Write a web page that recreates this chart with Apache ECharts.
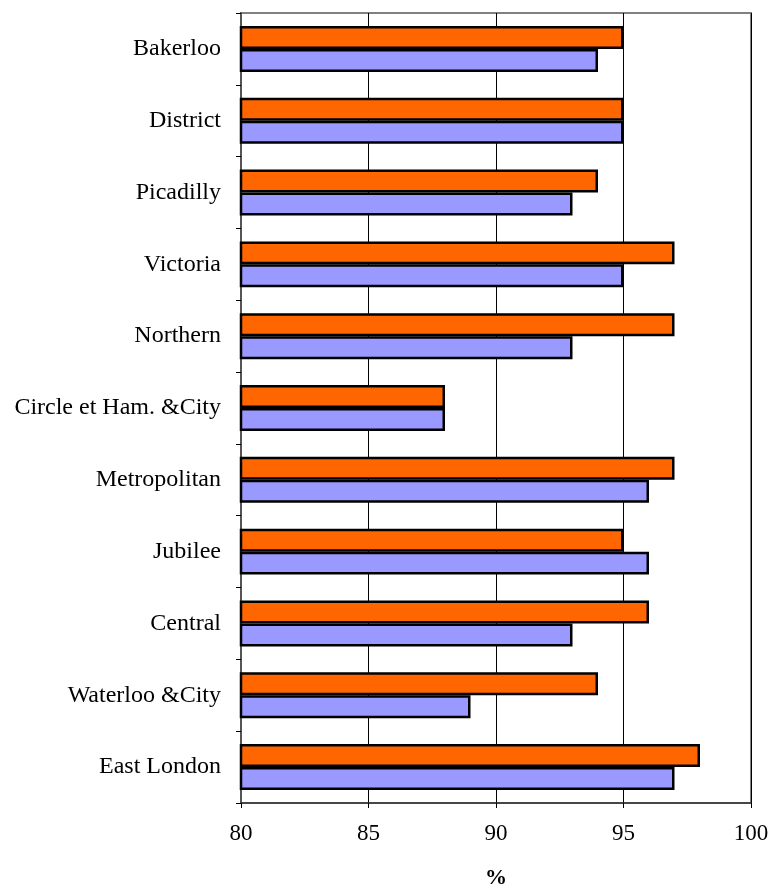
<!DOCTYPE html>
<html><head><meta charset="utf-8">
<script src="https://cdn.jsdelivr.net/npm/echarts@6/dist/echarts.min.js"></script>
<style>html,body{margin:0;padding:0;background:#fff}#c{width:773px;height:889px}</style>
</head><body><div id="c"></div>
<script>
const categories = ['Bakerloo','District','Picadilly','Victoria','Northern','Circle et Ham. &City','Metropolitan','Jubilee','Central','Waterloo &City','East London'];
const seriesOrange = [95,95,94,97,97,88,97,95,96,94,98];
const seriesPurple = [94,95,93,95,93,88,96,96,93,89,97];
const xTicks = {min:80,max:100,interval:5};

const chart = echarts.init(document.getElementById('c'));
const font = 'Liberation Serif, Times New Roman, serif';
chart.setOption({
  animation:false,
  grid:{left:241,right:22,top:13,bottom:86,containLabel:false,outerBoundsMode:'none',show:true,borderColor:'#808080',borderWidth:2,backgroundColor:'#fff'},
  xAxis:{type:'value',min:xTicks.min,max:xTicks.max,interval:xTicks.interval,
    name:'%',nameLocation:'middle',nameGap:64,
    nameTextStyle:{fontFamily:font,fontSize:22,fontWeight:'bold',color:'#000'},
    axisLine:{show:true,lineStyle:{color:'#333',width:1.5}},
    axisTick:{show:true,length:5,lineStyle:{color:'#000'}},
    axisLabel:{fontFamily:font,fontSize:23,color:'#000',margin:19},
    splitLine:{show:true,lineStyle:{color:'#000',width:1}}},
  yAxis:{type:'category',data:categories,inverse:true,
    axisLine:{show:true,lineStyle:{color:'#555',width:2}},
    axisTick:{show:true,length:5,lineStyle:{color:'#000'}},
    axisLabel:{fontFamily:font,fontSize:24,color:'#000',margin:20},
    splitLine:{show:false}},
  series:[
    {type:'bar',data:seriesOrange,barGap:'0%',barCategoryGap:'36%',
     itemStyle:{color:'#FF6600',borderColor:'#000',borderWidth:2.5}},
    {type:'bar',data:seriesPurple,
     itemStyle:{color:'#9999FF',borderColor:'#000',borderWidth:2.5}}
  ]
});
</script></body></html>
